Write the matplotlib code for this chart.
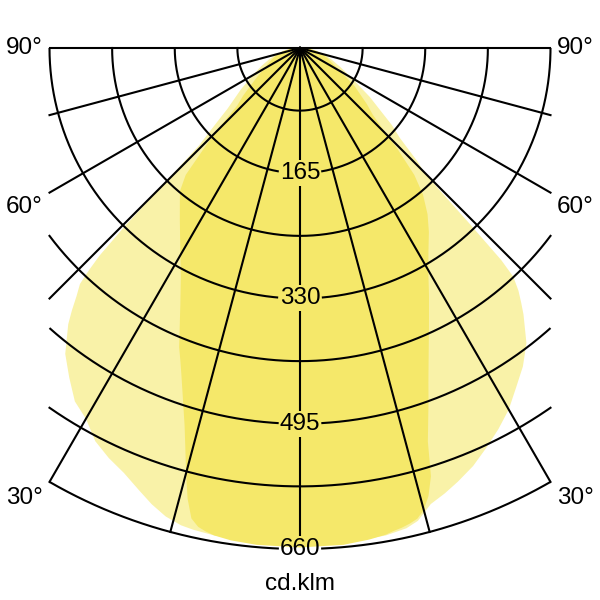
import numpy as np
import matplotlib
matplotlib.use("Agg")
import matplotlib.pyplot as plt

# ---------------- data (cd/klm, angle from nadir in degrees) ----------------
wide_angles = [0, 5, 10, 12.5, 14, 16, 18, 20, 22.5, 25, 27.5, 30, 32.5, 35, 37.5,
               40, 41, 42, 43, 43.5, 44, 44.5, 45, 46, 48, 50, 55, 60, 65, 70, 75, 80, 85, 90]
wide_left = [655, 655, 652, 650, 648, 642, 632, 620, 606, 596, 584, 564, 552, 530, 508,
             475, 458, 440, 425, 405, 380, 330, 260, 185, 150, 125, 95, 72, 56, 43, 32, 22, 12, 0]
wide_right = [655, 655, 652, 648, 642, 625, 617, 608, 596, 581, 566, 550, 530, 512, 490,
              458, 444, 430, 412, 385, 320, 260, 232, 215, 177, 158, 112, 78, 58, 44, 33, 22, 12, 0]

narrow_angles = [0, 5, 8, 10, 11, 12, 13, 14, 15, 16, 17, 18, 20, 21, 22, 25, 27.5, 30,
                 32.5, 35, 37.5, 40, 42, 44, 45, 47.5, 50, 55, 60, 65, 70, 75, 80, 85, 90]
narrow_left = [658, 657, 655, 652, 649, 645, 636, 612, 580, 548, 520, 497, 457, 440, 425,
               373, 340, 315, 294, 276, 260, 246, 225, 178, 158, 112, 98, 72, 55, 45, 37, 30, 22, 12, 0]
narrow_right = [658, 657, 654, 651, 648, 646, 643, 639, 630, 614, 590, 545, 495, 472, 452,
                402, 368, 338, 315, 296, 276, 252, 225, 185, 162, 130, 115, 88, 62, 47, 38, 30, 22, 12, 0]

ring_values = [82.5, 165, 247.5, 330, 412.5, 495, 577.5, 660]
ring_labels = ["165", "330", "495", "660"]
spoke_angles = [-90, -75, -60, -45, -30, -15, 0, 15, 30, 45, 60, 75, 90]
angle_labels = ["90°", "60°", "30°"]
unit_label = "cd.klm"

# ---------------- figure ----------------
plt.rcParams['font.family'] = ['Liberation Sans', 'DejaVu Sans']
scale = 501.0 / 660.0          # px per cd/klm
cx_px, cy_px = 300.0, 48.0
FS = 17.5

fig = plt.figure(figsize=(6, 6), dpi=100)
ax = fig.add_axes([0, 0, 1, 1])
ax.set_xlim(-cx_px / scale, (600 - cx_px) / scale)
ax.set_ylim(-(600 - cy_px) / scale, cy_px / scale)
ax.axis('off')

RMAX = 660.0
XMAX = RMAX * np.sin(np.radians(30))


def to_xy(g, r):
    g = np.radians(np.asarray(g, dtype=float))
    r = np.asarray(r, dtype=float)
    return r * np.sin(g), -r * np.cos(g)


def curve(angles, left, right):
    g = [-a for a in angles[::-1]] + list(angles[1:])
    v = list(left[::-1]) + list(right[1:])
    return to_xy(g, v)


x, y = curve(wide_angles, wide_left, wide_right)
ax.fill(x, y, color='#F9F2A8', lw=0, zorder=1)
x, y = curve(narrow_angles, narrow_left, narrow_right)
ax.fill(x, y, color='#F5E86A', lw=0, zorder=2)

lw = 1.5
gap_w = 21.0 / scale     # half width of label gap
gap_h = 13.0 / scale     # half height of label gap

# rings
for r in ring_values:
    gmax = 90.0 if r <= XMAX else np.degrees(np.arcsin(XMAX / r))
    g = np.linspace(-gmax, gmax, 721)
    xs, ys = to_xy(g, np.full_like(g, r))
    labelled = f"{r:g}" in ring_labels
    if labelled:
        left = xs < -gap_w
        right = xs > gap_w
        ax.plot(xs[left], ys[left], color='black', lw=lw, zorder=3, solid_capstyle='butt')
        ax.plot(xs[right], ys[right], color='black', lw=lw, zorder=3, solid_capstyle='butt')
        ax.text(0, -r, f"{r:g}", ha='center', va='center', fontsize=FS, zorder=4)
    else:
        ax.plot(xs, ys, color='black', lw=lw, zorder=3)

# spokes
for a in spoke_angles:
    s = abs(np.sin(np.radians(a)))
    L = RMAX if s < 1e-9 else min(RMAX, XMAX / s)
    if a == 0:
        start = 0.0
        for t in ring_labels:
            lr = float(t)
            ax.plot([0, 0], [-start, -(lr - gap_h)], color='black', lw=lw, zorder=3,
                    solid_capstyle='butt')
            start = lr + gap_h
    else:
        xs, ys = to_xy([a, a], [0, L])
        ax.plot(xs, ys, color='black', lw=lw, zorder=3)

# angle labels
lab_y_px = [48, 207, 498]
for lab, ypx in zip(angle_labels, lab_y_px):
    yd = -(ypx - cy_px) / scale
    ax.text(-(cx_px - 43) / scale, yd, lab, ha='right', va='center', fontsize=FS)
    ax.text((557 - cx_px) / scale, yd, lab, ha='left', va='center', fontsize=FS)

ax.text(0, -(584 - cy_px) / scale, unit_label, ha='center', va='center', fontsize=FS)

fig.savefig("out.png", dpi=100)
